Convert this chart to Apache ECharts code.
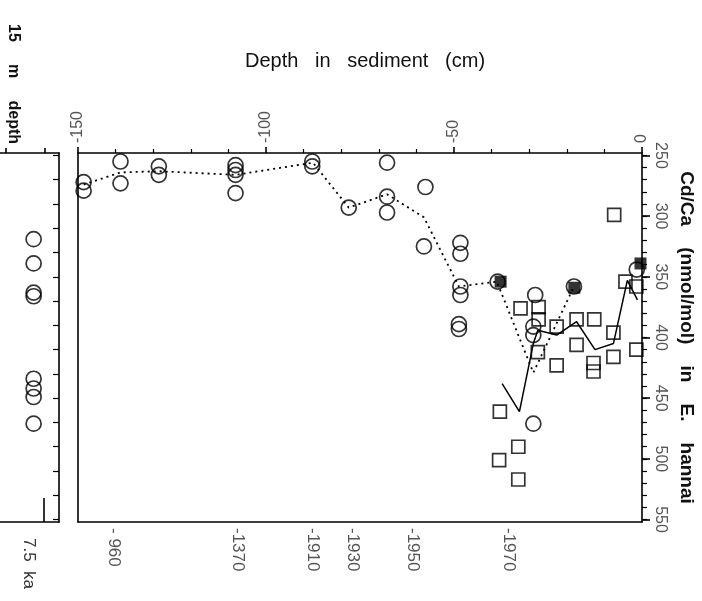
<!DOCTYPE html>
<html>
<head>
<meta charset="utf-8">
<script src="https://cdn.jsdelivr.net/npm/echarts@6/dist/echarts.min.js"></script>
<style>
  html, body { margin: 0; padding: 0; background: #fff; }
  #chart { width: 702px; height: 601px; }
</style>
</head>
<body>
<div id="chart"></div>
<script>
// open circles (depth cm, Cd/Ca nmol/mol)
const circleDepth = [-148.5, -148.5, -138.7, -138.7, -128.5, -128.5, -108.1, -108.1, -108.1, -108.1,
  -87.7, -87.7, -78, -67.8, -67.8, -67.8, -57.6, -58, -48.3, -48.3, -48.3, -48.3, -48.7, -48.7,
  -38.4, -28.4, -28.9, -28.9, -28.9, -18.1, -1.4]
const circleCdCa = [272, 279, 255, 273, 259, 266, 258, 262, 266, 281,
  255, 259, 293, 256, 284, 297, 276, 325, 322, 331, 358, 365, 389, 393,
  354, 365, 391, 398, 471, 358, 344]

// open squares
const squareDepth = [-7.4, -4.4, -1.5, -1.5, -7.6, -7.6, -12.7, -12.9, -12.9, -17.4, -17.4,
  -22.7, -22.7, -27.5, -27.5, -27.7, -32.3, -37.8, -38, -32.9, -32.9]
const squareCdCa = [299, 354, 358, 410, 396, 416, 385, 421, 428, 385, 406,
  391, 423, 375, 385, 412, 376, 461, 501, 490, 517]

// filled squares
const filledDepth = [-37.6, -18, -0.4]
const filledCdCa = [354, 359, 339]

// mean lines
const circleMeanDepth = [-148.5, -138.7, -128.5, -108.1, -87.5, -78, -67.8, -58, -48.7, -38.6, -28.9, -18.1]
const circleMeanCdCa = [274, 264, 263, 266, 256, 293, 282, 301, 358, 354, 429, 358]
const squareMeanDepth = [-37.2, -32.6, -28.9, -27.7, -22.7, -17.4, -12.5, -7.6, -3.9, -1.2]
const squareMeanCdCa = [438, 461, 405, 394, 398, 387, 410, 405, 353, 369]

// 15 m depth, 7.5 ka panel
const deepCdCa = [319, 339, 363, 366, 434, 442, 449, 471]

// axes
const cdcaLabels = [250, 300, 350, 400, 450, 500, 550]
const cdcaMinor = []
for (let v = 250; v <= 550; v += 10) cdcaMinor.push(v)
const deepTicks = []
for (let v = 250; v <= 550; v += 20) deepTicks.push(v)
const ageDepth = [-140.6, -107.6, -87.6, -77, -61, -35.5]
const ageLabels = ['- 960', '-1370', '-1910', '-1930', '-1950', '-1970']

const zip = (xs, ys) => xs.map((x, i) => [x, ys[i]])

const FONT = '"Liberation Sans", Arial, sans-serif'
const black = { color: '#000', width: 1.6 }
const tickText = { fontFamily: FONT, fontSize: 16, color: '#555' }
const yMin = 248
const yMax = 552

const chart = echarts.init(document.getElementById('chart'))

chart.setOption({
  backgroundColor: '#fff',
  animation: false,
  grid: [
    { left: 78, right: 60, top: 153, bottom: 79, containLabel: false, outerBoundsMode: 'none' },
    { left: 0, width: 59, top: 153, bottom: 79, containLabel: false, outerBoundsMode: 'none' },
  ],
  xAxis: [
    {
      gridIndex: 0, type: 'value', position: 'top', min: -150, max: 0, interval: 50,
      axisLine: { lineStyle: black },
      axisTick: { length: 6, lineStyle: black },
      minorTick: { show: true, splitNumber: 5, length: 4, lineStyle: { color: '#000', width: 1.2 } },
      splitLine: { show: false },
      axisLabel: { ...tickText, rotate: -90, margin: 10 },
      name: 'Depth   in   sediment   (cm)',
      nameLocation: 'middle',
      nameGap: 82,
      nameTextStyle: { fontFamily: FONT, fontSize: 20, color: '#111', padding: [0, 0, 0, 10] },
    },
    {
      gridIndex: 0, type: 'value', position: 'bottom', min: -150, max: 0,
      axisLine: { lineStyle: black },
      axisTick: { show: false },
      splitLine: { show: false },
      axisLabel: {
        ...tickText, fontSize: 17, rotate: -90, margin: 6,
        customValues: ageDepth,
        formatter: (v) => {
          const i = ageDepth.findIndex(d => Math.abs(d - v) < 1e-6)
          return i >= 0 ? ageLabels[i] : ''
        },
      },
    },
    {
      gridIndex: 1, type: 'value', position: 'bottom', min: 0, max: 1,
      axisLine: { lineStyle: black },
      axisTick: { customValues: [0.74], inside: true, length: 24, lineStyle: black },
      splitLine: { show: false },
      axisLabel: { ...tickText, fontSize: 17, color: '#333', rotate: -90, margin: 16, customValues: [0.48], formatter: () => '7.5  ka' },
    },
    {
      gridIndex: 1, type: 'value', position: 'top', min: 0, max: 1,
      axisLine: { lineStyle: black },
      axisTick: { customValues: [0.1, 0.76], length: 5, lineStyle: black },
      splitLine: { show: false },
      axisLabel: { show: false },
    },
  ],
  yAxis: [
    {
      gridIndex: 0, type: 'value', position: 'right', inverse: true, min: yMin, max: yMax,
      axisLine: { lineStyle: black },
      axisTick: { customValues: cdcaLabels, length: 8, lineStyle: black },
      splitLine: { show: false },
      axisLabel: { ...tickText, rotate: -90, margin: 10, customValues: cdcaLabels },
      name: 'Cd/Ca    (nmol/mol)    in    E.    hannai',
      nameLocation: 'middle',
      nameRotate: -90,
      nameGap: 35,
      nameTextStyle: { fontFamily: FONT, fontSize: 19, fontWeight: 'bold', color: '#111' },
    },
    {
      gridIndex: 0, type: 'value', position: 'right', inverse: true, min: yMin, max: yMax,
      axisLine: { show: false },
      axisTick: { customValues: cdcaMinor, length: 5, lineStyle: { color: '#000', width: 1.2 } },
      splitLine: { show: false },
      axisLabel: { show: false },
    },
    {
      gridIndex: 0, type: 'value', position: 'left', inverse: true, min: yMin, max: yMax,
      axisLine: { lineStyle: black },
      axisTick: { show: false },
      splitLine: { show: false },
      axisLabel: { show: false },
    },
    {
      // left panel axis sits on the panel's right edge
      gridIndex: 1, type: 'value', position: 'left', offset: -59, inverse: true, min: yMin, max: yMax,
      axisLine: { lineStyle: black },
      axisTick: { customValues: deepTicks, inside: false, length: 6, lineStyle: { color: '#000', width: 1.2 } },
      splitLine: { show: false },
      axisLabel: { show: false },
    },
  ],
  graphic: [
    {
      type: 'text', x: 13, y: 84, rotation: -Math.PI / 2,
      style: { text: '15     m     depth', fontFamily: FONT, fontSize: 16, fontWeight: 'bold', fill: '#111', align: 'center', verticalAlign: 'middle' },
    },
  ],
  series: [
    {
      type: 'line', xAxisIndex: 0, yAxisIndex: 0,
      data: zip(circleMeanDepth, circleMeanCdCa),
      symbol: 'none',
      lineStyle: { color: '#000', width: 1.8, type: [2, 4] },
      z: 2,
    },
    {
      type: 'line', xAxisIndex: 0, yAxisIndex: 0,
      data: zip(squareMeanDepth, squareMeanCdCa),
      symbol: 'none',
      lineStyle: { color: '#000', width: 1.5 },
      z: 2,
    },
    {
      type: 'scatter', xAxisIndex: 0, yAxisIndex: 0,
      data: zip(filledDepth, filledCdCa),
      symbol: 'rect', symbolSize: 12,
      itemStyle: { color: '#000' },
      z: 3,
    },
    {
      type: 'scatter', xAxisIndex: 0, yAxisIndex: 0,
      data: zip(squareDepth, squareCdCa),
      symbol: 'rect', symbolSize: 13,
      itemStyle: { color: 'rgba(255,255,255,0)', borderColor: '#000', borderWidth: 1.7 },
      z: 4,
    },
    {
      type: 'scatter', xAxisIndex: 0, yAxisIndex: 0,
      data: zip(circleDepth, circleCdCa),
      symbol: 'circle', symbolSize: 15,
      itemStyle: { color: 'rgba(255,255,255,0)', borderColor: '#000', borderWidth: 1.7 },
      z: 4,
    },
    {
      type: 'scatter', xAxisIndex: 2, yAxisIndex: 3,
      data: deepCdCa.map(v => [0.57, v]),
      symbol: 'circle', symbolSize: 15,
      itemStyle: { color: 'rgba(255,255,255,0)', borderColor: '#000', borderWidth: 1.7 },
      z: 4,
    },
  ],
})
</script>
</body>
</html>
